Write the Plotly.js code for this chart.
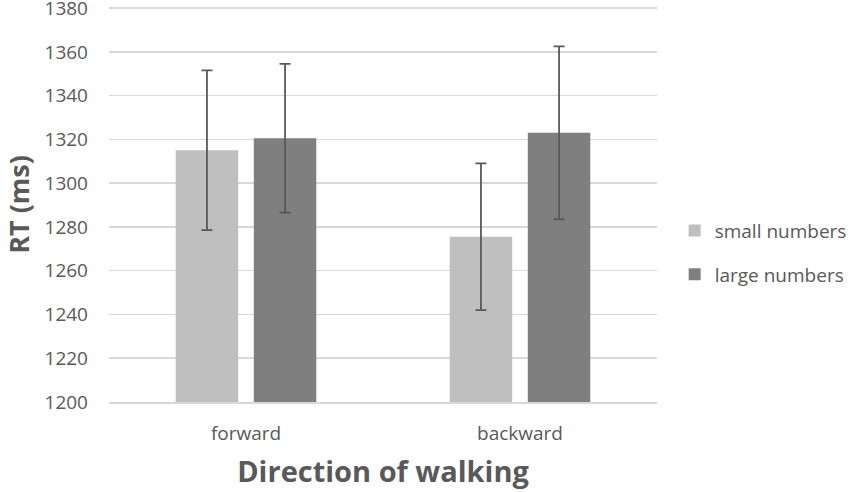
<!DOCTYPE html>
<html>
<head>
<meta charset="utf-8">
<script src="https://cdn.plot.ly/plotly-3.0.1.min.js"></script>
<style>
  html, body { margin: 0; padding: 0; background: #fff; }
  #chart { width: 854px; height: 492px; }
</style>
</head>
<body>
<div id="chart"></div>
<script>
const directions = ["forward", "backward"];
const seriesNames = ["small numbers", "large numbers"];
const smallRT = [1315, 1275.5];
const largeRT = [1320.5, 1323];
const smallErr = [36.5, 33.5];
const largeErr = [34, 39.5];
const yTicks = [1200, 1220, 1240, 1260, 1280, 1300, 1320, 1340, 1360, 1380];

const textColor = "#595959";

function barTrace(name, values, errs, color) {
    return {
        type: "bar",
        name: name,
        legendgroup: name,
        x: directions,
        y: values,
        marker: { color: color },
        error_y: {
            type: "data",
            array: errs,
            visible: true,
            color: "#595959",
            thickness: 1.8,
            width: 5.5
        },
        hoverinfo: "y"
    };
}

const traces = [
    barTrace(seriesNames[0], smallRT, smallErr, "#bfbfbf"),
    barTrace(seriesNames[1], largeRT, largeErr, "#7f7f7f")
];

const layout = {
    width: 854,
    height: 492,
    margin: { l: 109, r: 197, t: 7, b: 90, autoexpand: false },
    paper_bgcolor: "#ffffff",
    plot_bgcolor: "#ffffff",
    font: { family: "Open Sans, sans-serif", color: textColor, size: 19 },
    barmode: "group",
    bargap: 0.43,
    bargroupgap: 0.2,
    showlegend: true,
    legend: {
        xref: "container",
        x: 0.79,
        y: 0.378,
        xanchor: "left",
        yanchor: "middle",
        font: { size: 19, color: textColor },
        tracegroupgap: 16,
        itemwidth: 30
    },
    xaxis: {
        title: { text: "Direction of walking", font: { size: 29, weight: "bold", color: textColor }, standoff: 16 },
        showline: true,
        linecolor: "#d9d9d9",
        linewidth: 1.5,
        ticks: "",
        ticklabelstandoff: 14,
        tickfont: { size: 19, color: textColor }
    },
    yaxis: {
        title: { text: "RT (ms)", font: { size: 27, weight: "bold", color: textColor }, standoff: 8 },
        range: [1200, 1380.5],
        tickvals: yTicks,
        showgrid: true,
        gridcolor: "#d9d9d9",
        gridwidth: 1.5,
        zeroline: false,
        showline: false,
        ticks: "",
        ticklabelstandoff: 20,
        ticklabeloverflow: "allow",
        tickfont: { size: 19, color: textColor }
    }
};

Plotly.newPlot("chart", traces, layout, { displayModeBar: false, staticPlot: true });
</script>
</body>
</html>
